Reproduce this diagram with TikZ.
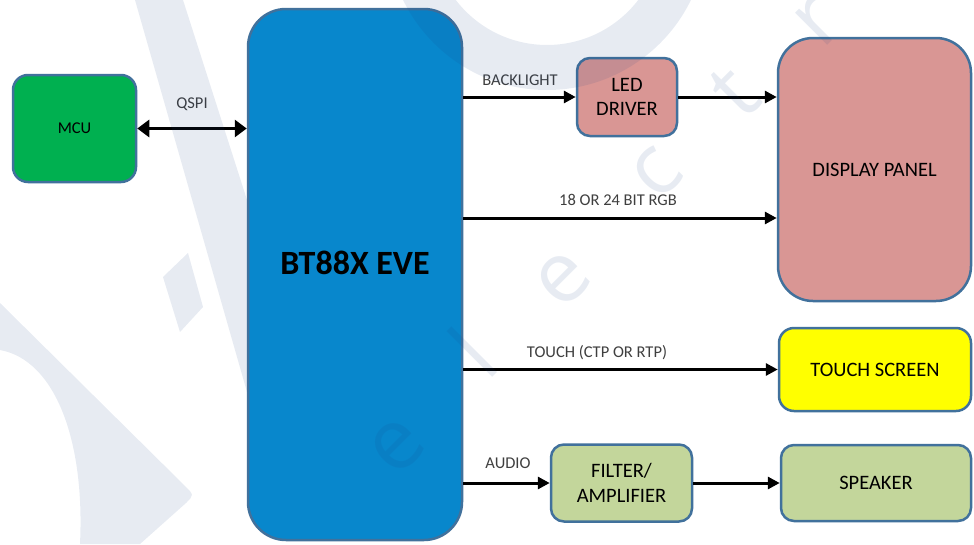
\documentclass[tikz,border=0pt]{standalone}
\usepackage{fontspec}
\setmainfont{Carlito}
\newfontfamily\wmfont{Open Sans}
\usetikzlibrary{arrows.meta}
\definecolor{bord}{HTML}{41719C}
\definecolor{mcugreen}{HTML}{00B050}
\definecolor{eveblue}{HTML}{0887CC}
\definecolor{pinkfill}{HTML}{D99694}
\definecolor{yellowfill}{HTML}{FFFF00}
\definecolor{olivefill}{HTML}{C3D69B}
\definecolor{lblgray}{HTML}{3F3F3F}
\definecolor{wmc}{HTML}{194187}
\newcommand\lblfont{\fontsize{16.5}{20}\selectfont}
\newcommand\boxfont{\fontsize{20.5}{24.5}\selectfont}
\tikzset{
  box/.style={draw=bord, line width=2.5pt, align=center, inner sep=0pt, text=black},
  lbl/.style={text=lblgray, inner sep=0pt, font=\lblfont},
  arr/.style={line width=3pt, -{Triangle[length=12pt,width=12pt]}},
  biarr/.style={line width=3pt, {Triangle[length=12pt,width=17pt]}-{Triangle[length=12pt,width=17pt]}},
  wm/.style={wmc, opacity=0.1},
  wmletter/.style={text=wmc, text opacity=0.1, font=\wmfont\fontsize{85}{85}\selectfont, rotate=45, inner sep=0pt}
}
\begin{document}
\begin{tikzpicture}[x=1pt,y=-1pt]
\useasboundingbox (0,0) rectangle (974,544);
\fill[white] (0,0) rectangle (974,544);

% boxes
\node[box, fill=mcugreen, rounded corners=15pt, minimum width=123pt, minimum height=107pt, font=\lblfont] (mcu) at (74.5,128.5) {MCU};
\node[box, fill=eveblue, rounded corners=38pt, minimum width=214pt, minimum height=531pt] (eve) at (355,274.5) {};
\node[text=black, inner sep=0pt, font=\fontsize{34}{40}\selectfont\bfseries] (evelbl) at (355,263) {BT88X EVE};
\node[box, fill=pinkfill, rounded corners=13pt, minimum width=100pt, minimum height=78pt, font=\boxfont] (led) at (627,97) {LED\\DRIVER};
\node[box, fill=pinkfill, rounded corners=35pt, minimum width=193pt, minimum height=263pt, font=\boxfont] (disp) at (874.5,169.5) {DISPLAY PANEL};
\node[box, fill=yellowfill, rounded corners=15pt, minimum width=192pt, minimum height=83pt, font=\boxfont] (ts) at (875,369.5) {TOUCH SCREEN};
\node[box, fill=olivefill, rounded corners=13pt, minimum width=141pt, minimum height=77pt, font=\boxfont] (fil) at (621.5,483) {FILTER/\\AMPLIFIER};
\node[box, fill=olivefill, rounded corners=13pt, minimum width=190pt, minimum height=76pt, font=\boxfont] (spk) at (876,483) {SPEAKER};

% connectors
\coordinate (rgb) at (0,218);
\draw[biarr] (mcu.east) -- (mcu.east -| eve.west);
\draw[arr] (led.west -| eve.east) -- (led.west);
\draw[arr] (led.east) -- (led.east -| disp.west);
\draw[arr] (eve.east |- rgb) -- (disp.west |- rgb);
\draw[arr] (ts.west -| eve.east) -- (ts.west);
\draw[arr] (fil.west -| eve.east) -- (fil.west);
\draw[arr] (fil.east) -- (fil.east -| spk.west);

% labels
\node[lbl] (qspi) at (192,104) {QSPI};
\node[lbl] (bl) at (520,80) {BACKLIGHT};
\node[lbl] (rgbl) at (618,200) {18 OR 24 BIT RGB};
\node[lbl] (touchl) at (597,353) {TOUCH (CTP OR RTP)};
\node[lbl] (audiol) at (508,463) {AUDIO};

% watermark
\fill[wm] (135,0) -- (183,0) -- (247,200) -- (247,392) -- cycle;
\fill[wm] (163,277) -- (188,253) -- (203,307) -- (180,332) -- cycle;
\fill[wm] (0,303) -- (185,486) .. controls (194,495) .. (186,503) -- (140,544) -- (80,544) .. controls (85,440) and (55,360) .. (0,350) -- cycle;
\fill[wm, even odd rule] (547,-70) circle (160) (547,-70) circle (115);
\node[wmletter] (w1) at (397,447) {e};
\node[wmletter] (w2) at (472,352) {l};
\node[wmletter] (w3) at (563,280) {e};
\node[wmletter] (w4) at (657,173) {c};
\node[wmletter] (w5) at (735,92) {t};
\node[wmletter] (w6) at (818,22) {r};
\end{tikzpicture}
\end{document}
